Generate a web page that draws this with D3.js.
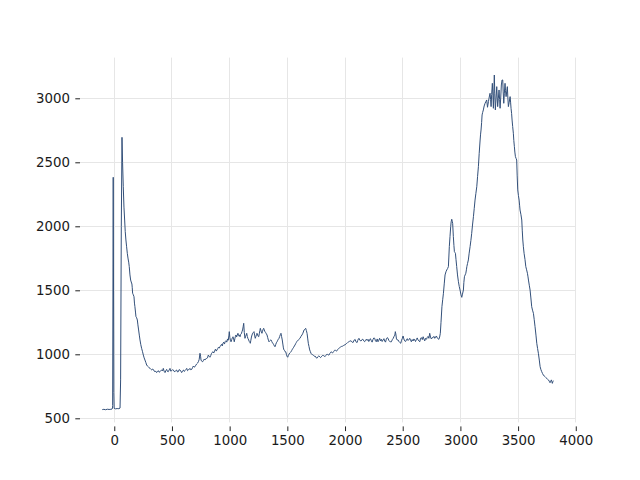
<!DOCTYPE html>
<html>
<head>
<meta charset="utf-8">
<script src="https://cdn.jsdelivr.net/npm/d3@7"></script>
<style>
  html, body { margin: 0; padding: 0; background: #fff; }
  svg { display: block; }
  text { font-family: "DejaVu Sans", sans-serif; font-size: 13.33px; fill: #1a1a1a; }
</style>
</head>
<body>
<svg id="chart" width="640" height="480"></svg>
<script>
const xTicks = [0, 500, 1000, 1500, 2000, 2500, 3000, 3500, 4000];
const yTicks = [500, 1000, 1500, 2000, 2500, 3000];

const xValues = [
-104,-90,-75,-60,-45,-30,-20,-15,-14,-9,-4,-1,10,25,40,50,55,61,67,72,78,84,90,95,101,107,113,120,125,130,136,142,147,153,156,159,165,171,175,179,184,188,194,200,205,211,217,223,230,237,245,252,259,266,274,281,288,295,302,309,316,324,331,338,345,353,360,367,375,382,389,396,404,411,418,425,432,440,447,454,461,468,476,483,490,497,505,512,519,526,534,541,548,555,562,570,577,584,591,599,606,613,620,628,635,642,650,657,664,671,678,685,692,700,707,714,721,729,736,743,748,752,759,766,772,779,786,793,801,808,815,822,829,836,842,849,855,862,870,877,884,890,897,903,910,916,923,930,936,942,949,955,962,968,975,982,988,994,997,1002,1007,1012,1018,1024,1029,1035,1040,1046,1050,1055,1060,1066,1072,1078,1084,1090,1095,1101,1107,1112,1117,1122,1127,1133,1138,1143,1148,1153,1158,1165,1170,1175,1179,1184,1189,1194,1200,1205,1211,1216,1222,1228,1233,1237,1243,1248,1252,1257,1262,1266,1270,1275,1280,1285,1290,1295,1300,1306,1312,1318,1324,1330,1336,1341,1347,1353,1359,1365,1370,1376,1382,1388,1393,1399,1405,1411,1417,1422,1428,1434,1440,1445,1450,1456,1461,1466,1471,1477,1481,1486,1492,1497,1503,1509,1515,1521,1527,1532,1538,1544,1549,1555,1561,1567,1573,1578,1581,1588,1595,1602,1610,1618,1627,1635,1645,1652,1659,1665,1671,1677,1682,1688,1694,1700,1705,1711,1717,1723,1729,1735,1740,1746,1752,1757,1763,1769,1775,1781,1787,1792,1798,1804,1809,1815,1821,1827,1833,1839,1844,1850,1856,1861,1867,1873,1879,1885,1891,1896,1902,1908,1913,1919,1925,1931,1937,1943,1948,1954,1960,1965,1971,1977,1983,1989,1994,2000,2006,2012,2017,2023,2029,2035,2040,2046,2052,2058,2064,2069,2075,2081,2087,2093,2099,2104,2110,2116,2121,2127,2133,2139,2145,2150,2156,2162,2170,2178,2185,2192,2199,2206,2213,2220,2228,2235,2242,2250,2257,2264,2271,2279,2286,2293,2300,2308,2315,2322,2330,2337,2344,2351,2358,2366,2373,2380,2387,2395,2402,2410,2418,2425,2432,2436,2440,2446,2453,2460,2467,2475,2483,2490,2497,2503,2510,2517,2525,2532,2540,2547,2554,2561,2568,2575,2582,2590,2597,2604,2611,2619,2626,2633,2640,2648,2655,2662,2670,2677,2684,2691,2698,2706,2713,2720,2727,2734,2741,2748,2756,2763,2770,2778,2785,2792,2799,2806,2813,2820,2826,2832,2840,2847,2853,2860,2867,2875,2882,2889,2896,2900,2904,2910,2916,2920,2925,2929,2933,2939,2944,2948,2953,2957,2962,2968,2975,2983,2990,2997,3004,3008,3012,3018,3026,3030,3035,3041,3047,3052,3056,3062,3069,3076,3084,3091,3098,3105,3113,3120,3127,3134,3142,3149,3156,3163,3171,3175,3179,3184,3188,3193,3199,3206,3214,3221,3228,3235,3243,3250,3257,3262,3266,3271,3277,3282,3286,3290,3294,3298,3303,3309,3315,3319,3323,3329,3335,3340,3344,3350,3355,3361,3367,3371,3376,3381,3387,3391,3396,3401,3407,3411,3416,3423,3431,3435,3439,3444,3448,3453,3459,3463,3468,3472,3477,3483,3488,3492,3497,3503,3509,3513,3517,3525,3532,3536,3541,3546,3552,3560,3567,3574,3581,3586,3590,3597,3604,3611,3618,3625,3633,3640,3647,3655,3662,3669,3676,3684,3691,3698,3705,3712,3719,3727,3734,3741,3748,3755,3763,3770,3777,3783,3789,3793,3797,3801,3806
];

const yValues = [
568,570,567,571,569,570,572,580,600,2383,700,578,574,576,575,580,800,2000,2695,2500,2309,2150,2049,1960,1893,1840,1789,1745,1720,1685,1620,1580,1565,1549,1520,1477,1465,1450,1400,1372,1330,1294,1285,1268,1230,1190,1150,1112,1075,1047,1020,994,972,955,935,916,908,903,895,891,884,877,885,882,870,864,868,857,866,872,860,864,874,877,870,890,868,857,872,882,866,864,878,890,868,872,880,877,866,864,874,877,862,864,880,877,868,857,870,877,866,872,880,890,872,877,885,890,878,882,895,908,900,903,915,924,930,942,960,1008,985,955,945,942,950,962,955,965,968,972,994,985,977,990,1005,1015,1020,1010,1028,1040,1025,1034,1045,1055,1048,1059,1070,1078,1065,1086,1095,1080,1100,1106,1095,1120,1110,1150,1177,1130,1110,1098,1115,1130,1137,1120,1098,1125,1140,1151,1135,1150,1164,1145,1150,1137,1155,1160,1177,1190,1215,1242,1170,1125,1140,1150,1164,1140,1125,1112,1100,1095,1086,1110,1135,1151,1165,1170,1177,1150,1125,1140,1155,1164,1150,1140,1137,1160,1185,1203,1190,1175,1164,1180,1195,1203,1190,1177,1170,1160,1151,1130,1110,1098,1105,1110,1112,1100,1090,1086,1075,1065,1059,1075,1090,1098,1110,1118,1125,1140,1155,1164,1140,1112,1080,1050,1034,1028,1020,1020,1000,985,977,990,1002,1010,1015,1020,1030,1040,1047,1055,1065,1073,1085,1092,1098,1105,1112,1118,1125,1140,1151,1165,1190,1195,1203,1185,1164,1120,1086,1060,1034,1020,1008,1000,998,994,990,985,987,978,972,969,980,985,987,980,975,977,985,990,994,988,985,982,990,998,1002,998,995,994,1005,1012,1020,1015,1012,1013,1022,1030,1034,1030,1026,1028,1038,1044,1047,1052,1056,1059,1062,1063,1065,1070,1072,1073,1080,1084,1086,1092,1096,1098,1102,1104,1106,1098,1094,1091,1104,1112,1117,1102,1094,1091,1108,1120,1125,1112,1106,1104,1112,1117,1117,1105,1098,1110,1118,1108,1117,1100,1112,1122,1106,1095,1115,1128,1125,1105,1098,1120,1098,1110,1125,1105,1117,1100,1112,1122,1104,1095,1118,1130,1125,1108,1100,1098,1098,1115,1125,1140,1150,1177,1160,1120,1112,1112,1100,1092,1086,1110,1125,1143,1120,1105,1100,1112,1122,1108,1115,1125,1110,1098,1115,1104,1120,1112,1100,1117,1128,1112,1105,1098,1125,1130,1115,1137,1120,1105,1125,1117,1132,1140,1125,1164,1135,1120,1130,1130,1140,1125,1135,1143,1128,1122,1117,1135,1164,1250,1372,1430,1477,1550,1620,1645,1659,1670,1685,1760,1841,1920,1997,2035,2055,2040,2023,1919,1850,1802,1795,1789,1740,1685,1620,1567,1530,1502,1470,1455,1445,1470,1502,1560,1606,1620,1633,1660,1685,1710,1737,1790,1841,1890,1945,2010,2075,2140,2205,2255,2309,2390,2466,2570,2674,2720,2752,2810,2870,2890,2909,2940,2961,2975,2987,2930,2974,3010,3039,2990,2935,3030,3117,3020,2922,3050,3182,3040,2909,3000,3091,3010,2935,3000,3065,2990,2922,3010,3104,3143,3143,3050,2961,3040,3117,3060,3013,3050,3091,3010,2935,2970,3013,2970,2922,2880,2830,2780,2727,2670,2622,2580,2544,2530,2518,2400,2284,2240,2205,2165,2127,2090,2049,1970,1893,1840,1789,1740,1685,1660,1633,1605,1580,1540,1502,1440,1372,1345,1320,1270,1216,1150,1086,1045,1008,955,903,880,864,850,838,830,825,818,812,805,800,790,778,790,800,785,773,785,794
];

const svg = d3.select("#chart");
const plotLeft = 80, plotRight = 576, plotTop = 57.6, plotBottom = 422.4;

const x = d3.scaleLinear().domain([-297, 4002]).range([plotLeft, plotRight]);
const y = d3.scaleLinear().domain([500, 3000]).range([418.3, 98.3]);

const snap = v => Math.round(v - 0.5) + 0.5;

// grid
const grid = svg.append("g");
grid.selectAll("line.vx").data(xTicks).enter().append("line")
  .attr("x1", d => snap(x(d))).attr("x2", d => snap(x(d)))
  .attr("y1", plotTop).attr("y2", plotBottom)
  .attr("stroke", "#e6e6e6").attr("stroke-width", 1);
grid.selectAll("line.hy").data(yTicks).enter().append("line")
  .attr("x1", plotLeft).attr("x2", plotRight)
  .attr("y1", d => snap(y(d))).attr("y2", d => snap(y(d)))
  .attr("stroke", "#e6e6e6").attr("stroke-width", 1);

// line
const pts = xValues.map((v, i) => [v, yValues[i]]);
svg.append("path")
  .datum(pts)
  .attr("fill", "none")
  .attr("stroke", "#33507a")
  .attr("stroke-width", 1)
  .attr("stroke-linejoin", "round")
  .attr("d", d3.line().x(d => x(d[0])).y(d => y(d[1])));

// x axis (offset below plot)
const xAxis = d3.axisBottom(x).tickValues(xTicks).tickSize(4.7).tickPadding(3.5).tickFormat(d3.format("d"));
const gx = svg.append("g").attr("transform", "translate(0,426.4)").call(xAxis);
gx.select(".domain").remove();
gx.selectAll(".tick line").attr("stroke", "#222");
gx.selectAll(".tick text").attr("fill", "#1a1a1a").attr("y", 9.3).attr("dy", "0.71em")
  .style("font-family", "'DejaVu Sans', sans-serif").style("font-size", "13.33px");

// y axis
const yAxis = d3.axisLeft(y).tickValues(yTicks).tickSize(4.7).tickPadding(5.3).tickFormat(d3.format("d"));
const gy = svg.append("g").attr("transform", "translate(80,0)").call(yAxis);
gy.select(".domain").remove();
gy.selectAll(".tick line").attr("stroke", "#222");
gy.selectAll(".tick text").attr("fill", "#1a1a1a")
  .style("font-family", "'DejaVu Sans', sans-serif").style("font-size", "13.33px");
</script>
</body>
</html>
